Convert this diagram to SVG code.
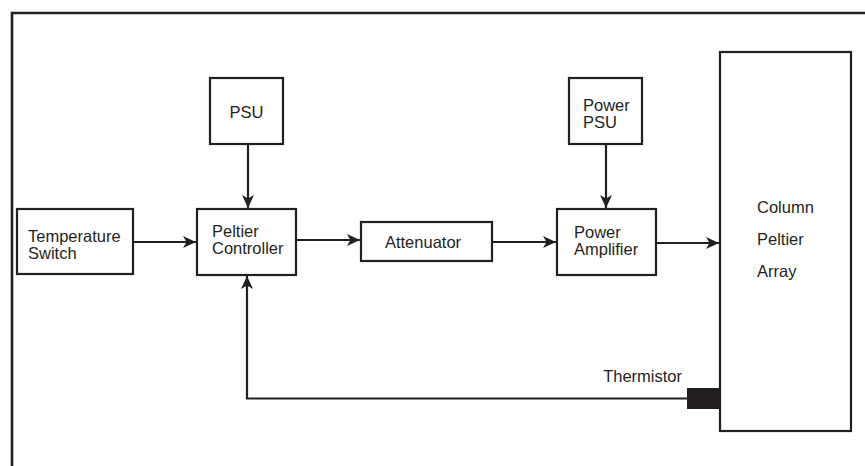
<svg xmlns="http://www.w3.org/2000/svg" width="865" height="466" viewBox="0 0 865 466">
<style>
.box{fill:#fff;stroke:#231f20;stroke-width:2.2}
.ln{fill:none;stroke:#231f20;stroke-width:2.2}
.t{font-family:"Liberation Sans",Arial,sans-serif;font-size:16.5px;fill:#231f20}
</style>
<defs>
<marker id="ah" markerUnits="userSpaceOnUse" markerWidth="14" markerHeight="14" viewBox="0 0 14 14" refX="13" refY="7" orient="auto">
<path d="M0,1 L13,7 L0,13 L3.5,7 Z" fill="#231f20"/>
</marker>
</defs>
<g id="frame">
<path d="M12,466 V13 H865" fill="none" stroke="#231f20" stroke-width="2.6"/>
</g>
<g id="connectors">
<path class="ln" d="M133,242 H196" marker-end="url(#ah)"/>
<path class="ln" d="M248,144 V208" marker-end="url(#ah)"/>
<path class="ln" d="M296,240 H360" marker-end="url(#ah)"/>
<path class="ln" d="M492,242 H556" marker-end="url(#ah)"/>
<path class="ln" d="M606,144 V208" marker-end="url(#ah)"/>
<path class="ln" d="M656,243 H719" marker-end="url(#ah)"/>
<path class="ln" d="M687,398.5 H247 V276" marker-end="url(#ah)"/>
</g>
<g id="temperature-switch">
<rect class="box" x="17" y="209" width="116" height="65"/>
<text class="t" x="28" y="241.5">Temperature</text>
<text class="t" x="28" y="258.5">Switch</text>
</g>
<g id="psu">
<rect class="box" x="210" y="78" width="73" height="66"/>
<text class="t" x="246.5" y="118" text-anchor="middle">PSU</text>
</g>
<g id="peltier-controller">
<rect class="box" x="197" y="209" width="99" height="66"/>
<text class="t" x="212" y="237">Peltier</text>
<text class="t" x="212" y="254">Controller</text>
</g>
<g id="attenuator">
<rect class="box" x="361" y="222" width="131" height="39"/>
<text class="t" x="423" y="248" text-anchor="middle">Attenuator</text>
</g>
<g id="power-psu">
<rect class="box" x="569" y="78" width="73" height="66"/>
<text class="t" x="583" y="111">Power</text>
<text class="t" x="583" y="128">PSU</text>
</g>
<g id="power-amplifier">
<rect class="box" x="557" y="209" width="99" height="66"/>
<text class="t" x="574" y="238">Power</text>
<text class="t" x="574" y="255">Amplifier</text>
</g>
<g id="column-peltier-array">
<rect class="box" x="720" y="52" width="131" height="379"/>
<text class="t" x="757" y="213">Column</text>
<text class="t" x="757" y="245">Peltier</text>
<text class="t" x="757" y="277">Array</text>
</g>
<g id="thermistor">
<rect x="687" y="388" width="33" height="21" fill="#231f20"/>
<text class="t" x="682" y="382" text-anchor="end">Thermistor</text>
</g>
</svg>
